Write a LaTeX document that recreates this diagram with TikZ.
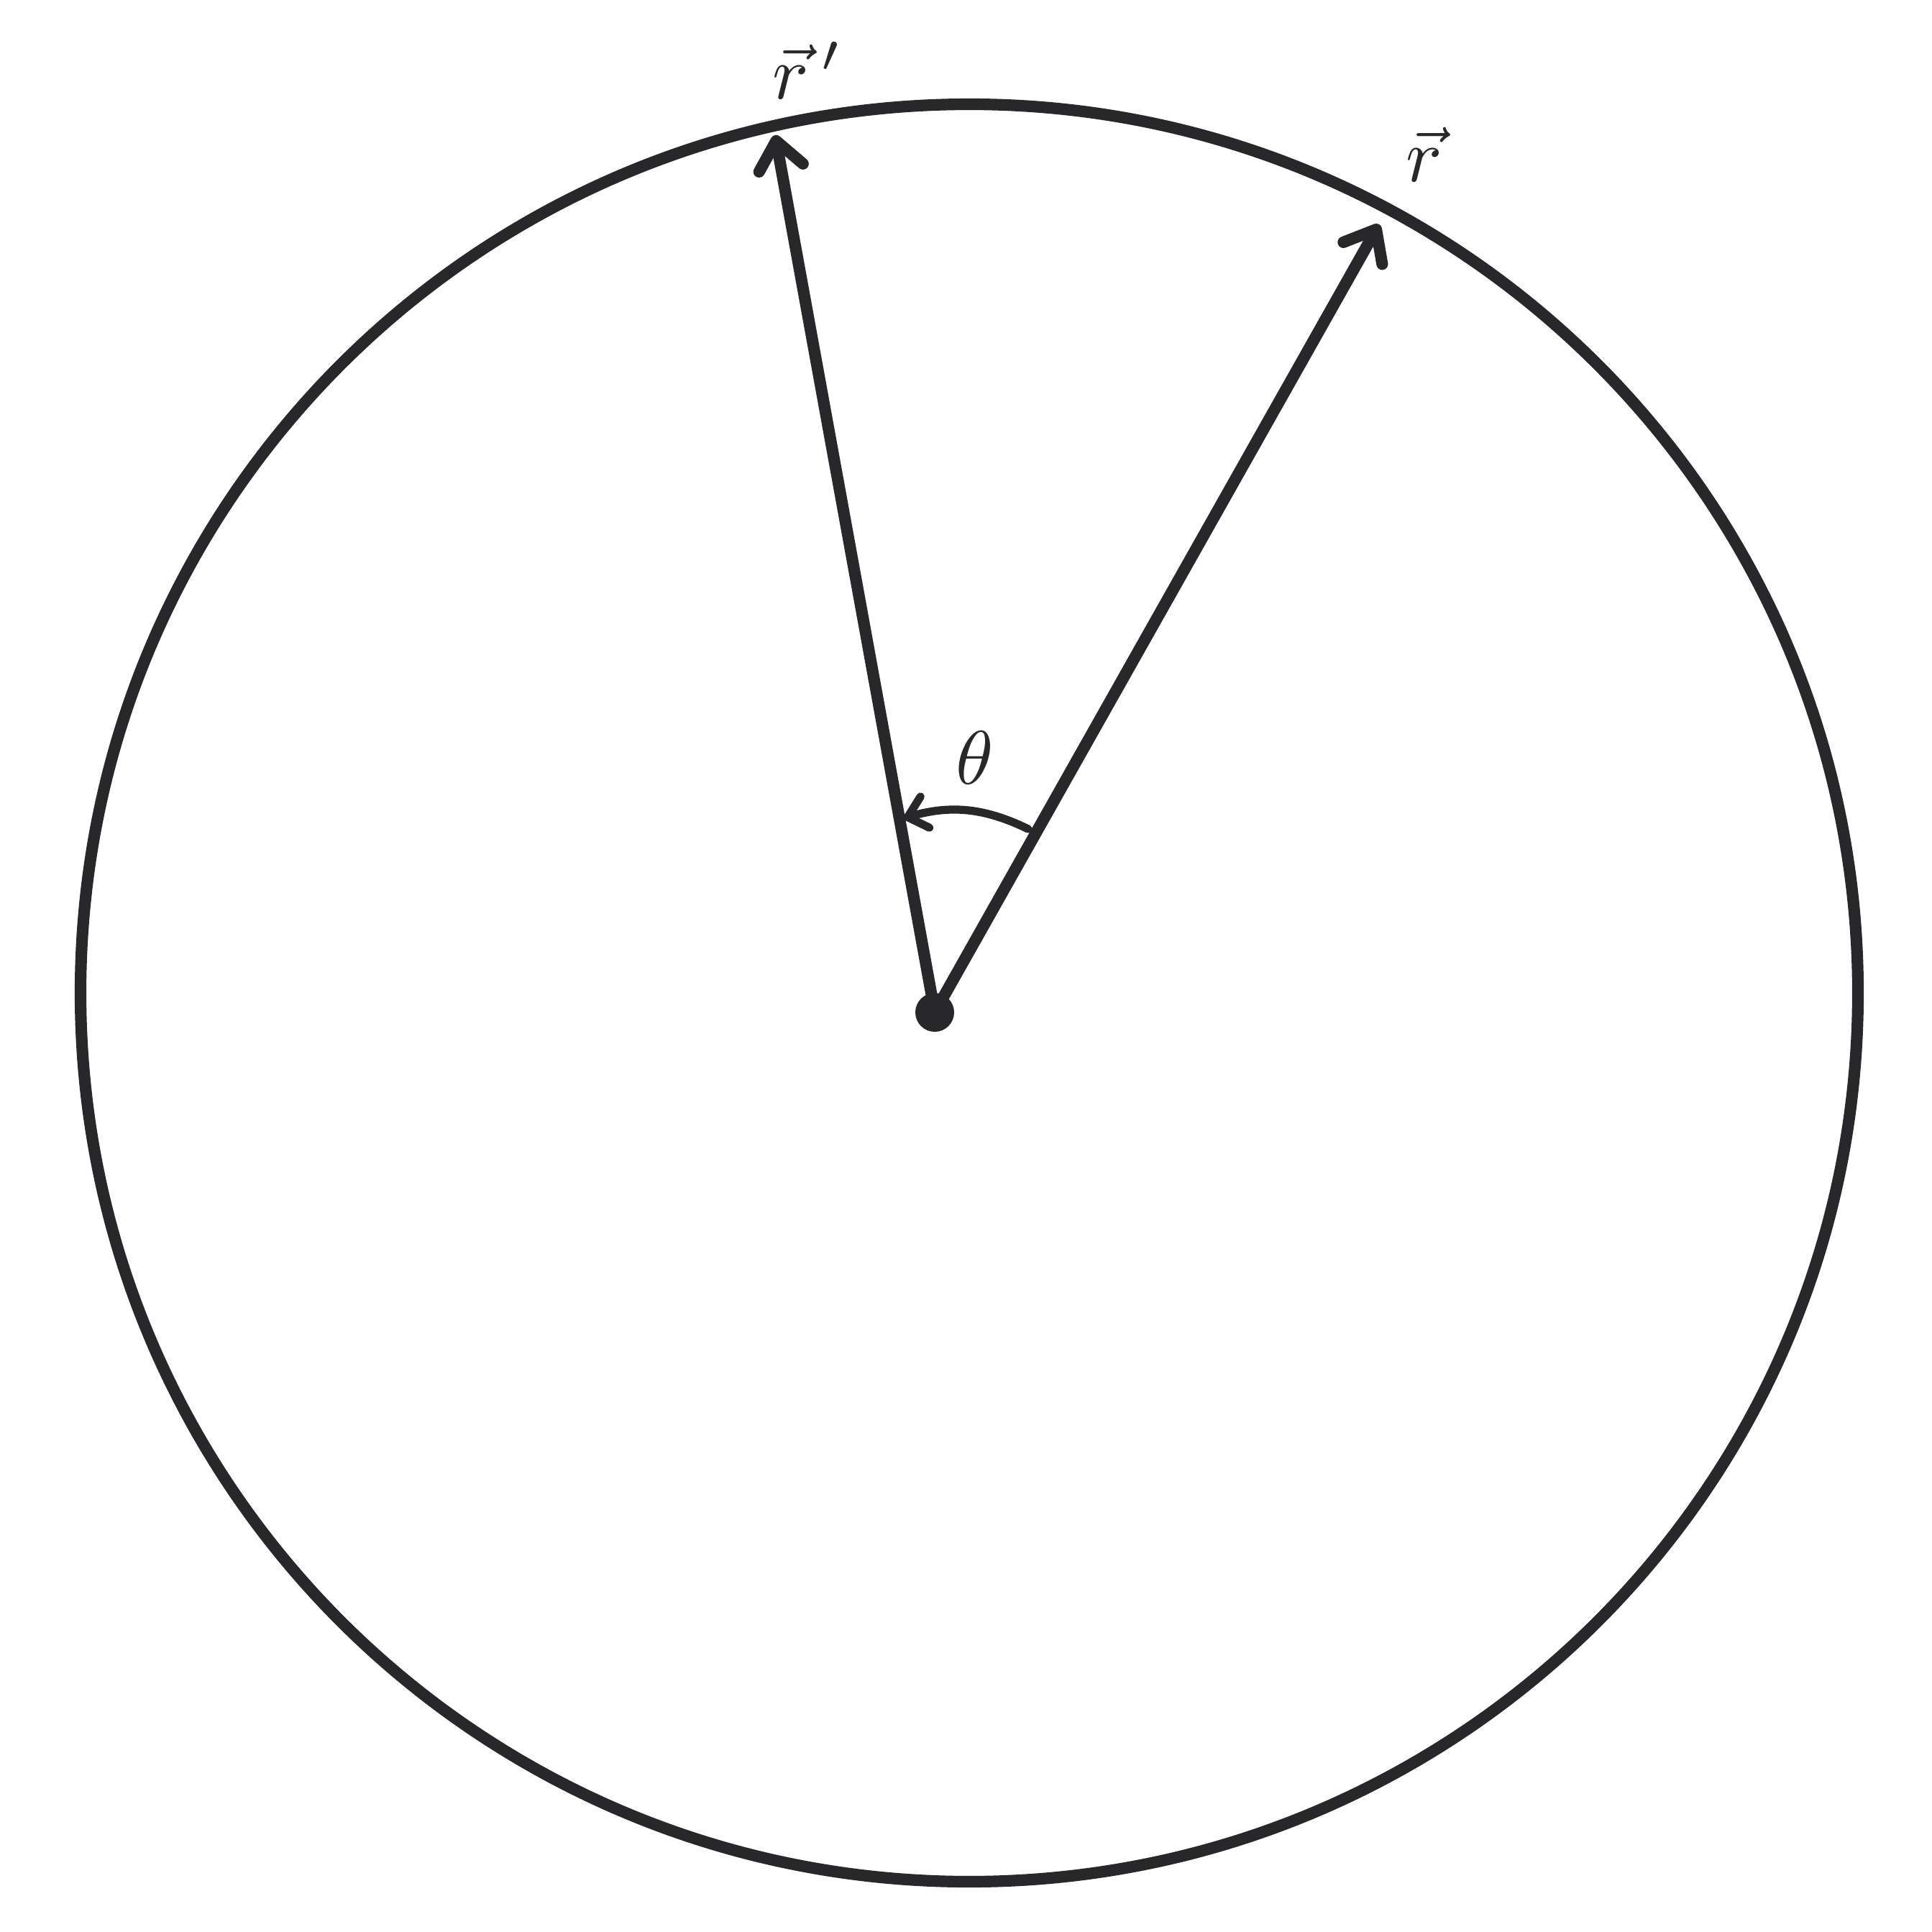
\documentclass[tikz,border=0pt]{standalone}
\usetikzlibrary{positioning,arrows.meta}
\definecolor{ink}{RGB}{40,40,43}

\begin{document}
\begin{tikzpicture}[
  inkline/.style={draw=ink, line width=4.6pt, line cap=round},
  vecarrow/.style={inkline, -{Straight Barb[length=3.8mm,width=6.2mm,round]}},
  lbl/.style={text=ink, inner sep=0pt, scale=3, transform shape}
]
  \useasboundingbox (0,0) rectangle (26.87,-26.87);
  \draw[inkline] (13.48,-13.81) circle (12.36);

  \coordinate (origin) at (13.00,-14.08);
  \coordinate (rtip) at (19.18,-3.12);
  \coordinate (rptip) at (10.78,-1.88);
  \draw[vecarrow] (origin) -- (rtip);
  \draw[vecarrow] (origin) -- (rptip);
  \fill[ink] (origin) circle (0.27);

  % angle between the two vectors
  \coordinate (arcstart) at (14.30,-11.53);
  \coordinate (arcend) at (12.57,-11.38);
  \draw[inkline, line width=3.2pt, -{Straight Barb[length=2.5mm,width=4.5mm,round]}]
    (arcstart) to[bend right=21] (arcend);

  \node[lbl, above=0.48cm of rptip, xshift=0.15cm] (rplabel) {$\vec{r}\,'$};
  \node[lbl, above right=0.57cm and 0.35cm of rtip] (rlabel) {$\vec{r}$};
  \node[lbl] (thetalabel) at (13.56,-10.54) {$\theta$};
\end{tikzpicture}
\end{document}
